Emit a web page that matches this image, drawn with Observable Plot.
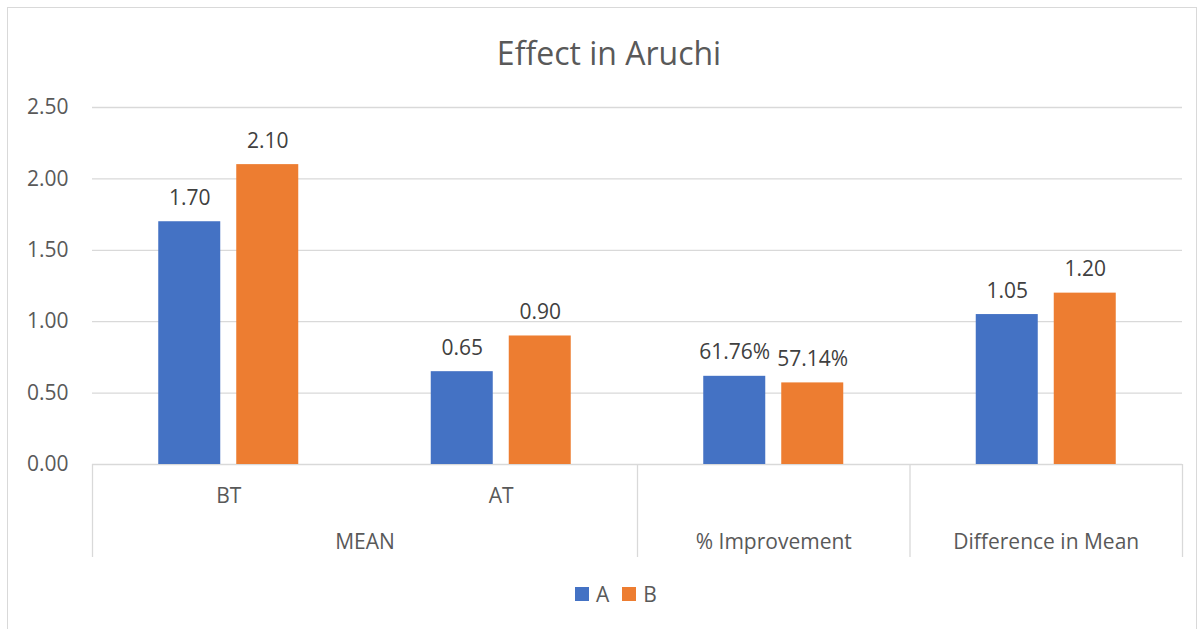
<!DOCTYPE html>
<html>
<head>
<meta charset="utf-8">
<script src="https://cdn.jsdelivr.net/npm/d3@7"></script>
<script src="https://cdn.jsdelivr.net/npm/@observablehq/plot@0.6"></script>
<style>
  body { margin: 0; background: #fff; font-family: "Open Sans", sans-serif; }
  #wrap { position: relative; width: 1204px; height: 629px; overflow: hidden; }
  #frame { position: absolute; left: 7px; top: 7px; width: 1190px; height: 640px; border: 1px solid #d9d9d9; box-sizing: border-box; }
  #chart { position: absolute; left: 0; top: 0; }
  #title { position: absolute; left: 0; top: 31px; width: 1218px; text-align: center; font-size: 32px; color: #595959; line-height: normal; }
  #legend { position: absolute; left: 575px; top: 577px; display: flex; justify-content: flex-start; }
</style>
</head>
<body>
<div id="wrap">
  <div id="frame"></div>
  <div id="chart"></div>
  <div id="title">Effect in Aruchi</div>
  <div id="legend"></div>
</div>
<script>
// ---- data ----
const groups = ["BT", "AT", "% Improvement", "Difference in Mean"];
const subLabels = ["BT", "AT", "", ""];
const parentLabels = ["MEAN", "% Improvement", "Difference in Mean"];
const parentSpans = [2, 1, 1];
const series = ["A", "B"];
const valuesA = [1.70, 0.65, 0.6176, 1.05];
const valuesB = [2.10, 0.90, 0.5714, 1.20];
const labelsA = ["1.70", "0.65", "61.76%", "1.05"];
const labelsB = ["2.10", "0.90", "57.14%", "1.20"];
const yTicks = [0, 0.5, 1.0, 1.5, 2.0, 2.5];
const colors = ["#4472C4", "#ED7D31"];

// ---- layout helpers ----
const groupPx = 272.5;
const bw = 62 / groupPx, gap = 16 / groupPx;
const start = 0.5 - bw - gap / 2;
const fs = 21;

const rows = [];
groups.forEach((g, i) => {
  rows.push({g, s: "A", v: valuesA[i], t: labelsA[i], x1: i + start, x2: i + start + bw});
  rows.push({g, s: "B", v: valuesB[i], t: labelsB[i], x1: i + start + bw + gap, x2: i + start + 2 * bw + gap});
});

const subRows = subLabels.map((t, i) => ({t, x: i + 0.5}));
const parentRows = [];
let acc = 0;
parentLabels.forEach((t, i) => {
  parentRows.push({t, x: acc + parentSpans[i] / 2});
  acc += parentSpans[i];
});
const separators = [0];
acc = 0;
parentSpans.forEach(s => { acc += s; separators.push(acc); });

const chart = Plot.plot({
  width: 1204,
  height: 629,
  marginLeft: 92,
  marginRight: 22,
  marginTop: 107,
  marginBottom: 165,
  x: {domain: [0, groups.length], axis: null},
  y: {domain: [0, 2.5], axis: null},
  color: {domain: series, range: colors},
  style: {fontFamily: "Open Sans", fontSize: fs + "px", color: "#595959", background: "transparent", overflow: "visible"},
  marks: [
    Plot.ruleY(yTicks, {stroke: "#d9d9d9", strokeWidth: 1.3, strokeOpacity: 1}),
    Plot.axisY({ticks: yTicks, tickFormat: d => d.toFixed(2), tickSize: 0, tickPadding: 24, fontSize: fs, label: null, fill: "#595959"}),
    Plot.rectY(rows, {x1: "x1", x2: "x2", y: "v", fill: "s"}),
    Plot.text(rows, {x: d => (d.x1 + d.x2) / 2, y: "v", text: "t", lineAnchor: "bottom", dy: -17, fontSize: fs, fill: "#404040"}),
    Plot.ruleX(separators, {stroke: "#d9d9d9", strokeWidth: 1.3, insetTop: 357, insetBottom: -93}),
    Plot.text(subRows, {x: "x", text: "t", frameAnchor: "bottom", dy: 38, fontSize: fs, fill: "#595959"}),
    Plot.text(parentRows, {x: "x", text: "t", frameAnchor: "bottom", dy: 84, fontSize: fs, fill: "#595959"})
  ]
});
document.getElementById("chart").appendChild(chart);

const legend = Plot.legend({
  color: {domain: series, range: colors},
  legend: "swatches",
  swatchSize: 14,
  style: {fontFamily: "Open Sans", fontSize: fs + "px", color: "#595959", marginLeft: "0px"}
});
legend.querySelectorAll("span").forEach(s => { s.style.marginRight = "13px"; });
legend.querySelectorAll("span svg").forEach(s => { s.style.marginRight = "7px"; });
document.getElementById("legend").appendChild(legend);
</script>
</body>
</html>
